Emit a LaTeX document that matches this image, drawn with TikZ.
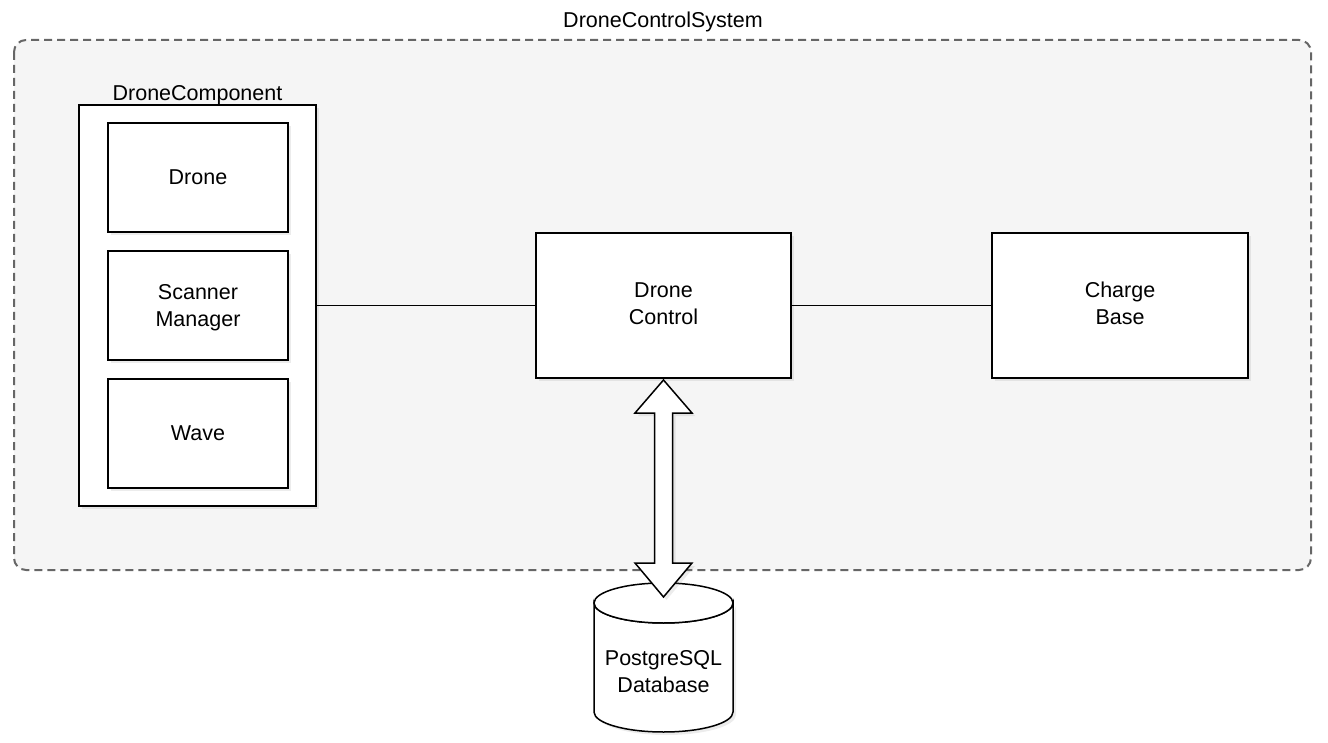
\documentclass[tikz,border=0pt]{standalone}
\usepackage{fontspec}
\setmainfont{Liberation Sans}
\usetikzlibrary{shadows,shapes.geometric}
\definecolor{contfill}{HTML}{F5F5F5}
\definecolor{contline}{HTML}{666666}
\tikzset{
  box/.style={draw=black, fill=white, line width=1.5pt, drop shadow={shadow xshift=3pt, shadow yshift=-3pt, opacity=0.15}},
  lbl/.style={font=\fontsize{21.5}{27}\selectfont, align=center},
  conn/.style={draw=black, line width=1.5pt},
}
\begin{document}
\begin{tikzpicture}[x=1pt,y=-1pt]
\useasboundingbox (0,0) rectangle (1328,743);
% container
\draw[draw=contline, fill=contfill, line width=2pt, dash pattern=on 8pt off 5pt, rounded corners=12pt] (14,40) rectangle (1311,570);
\node[lbl] (title) at (663,22) {DroneControlSystem};
% DroneComponent
\node[box, minimum width=237pt, minimum height=401pt, inner sep=0pt] (comp) at (197.5,305.5) {};
\node[lbl, anchor=base] (complbl) at (197.5,101) {DroneComponent};
\node[box, lbl, minimum width=180pt, minimum height=109pt, inner sep=0pt] (drone) at (198,177.5) {Drone};
\node[box, lbl, minimum width=180pt, minimum height=109pt, inner sep=0pt, text depth=0pt] (scan) at (198,305.5) {Scanner\\Manager};
\node[box, lbl, minimum width=180pt, minimum height=109pt, inner sep=0pt] (wave) at (198,433.5) {Wave};
% Drone control and charge base
\node[box, lbl, minimum width=255pt, minimum height=145pt, inner sep=0pt] (ctrl) at (663.5,305.5) {};
\node[lbl] (ctrltxt) at ([yshift=2pt]ctrl.center) {Drone\\Control};
\node[box, lbl, minimum width=256pt, minimum height=145pt, inner sep=0pt] (charge) at (1120,305.5) {};
\node[lbl] (chargetxt) at ([yshift=2pt]charge.center) {Charge\\Base};
\draw[conn] (comp.east) -- (ctrl.west);
\draw[conn] (ctrl.east) -- (charge.west);
% database cylinder
\draw[line width=1.5pt, fill=white, drop shadow={shadow xshift=3pt, shadow yshift=-3pt, opacity=0.15}]
  (594,603) arc[start angle=180, end angle=360, x radius=69.5pt, y radius=20pt]
  -- (733,712) arc[start angle=0, end angle=-180, x radius=69.5pt, y radius=20pt] -- cycle;
\draw[line width=1.5pt, fill=white] (663.5,603) ellipse[x radius=69.5pt, y radius=20pt];
\node[lbl] (db) at (663.5,672) {PostgreSQL\\Database};
% double block arrow
\draw[line width=1.5pt, fill=white, line join=miter, drop shadow={shadow xshift=3pt, shadow yshift=-3pt, opacity=0.15}]
  (663.5,380) -- (692,413) -- (672.5,413) -- (672.5,563) -- (692,563) -- (663.5,597)
  -- (635,563) -- (654.5,563) -- (654.5,413) -- (635,413) -- cycle;
\end{tikzpicture}
\end{document}
